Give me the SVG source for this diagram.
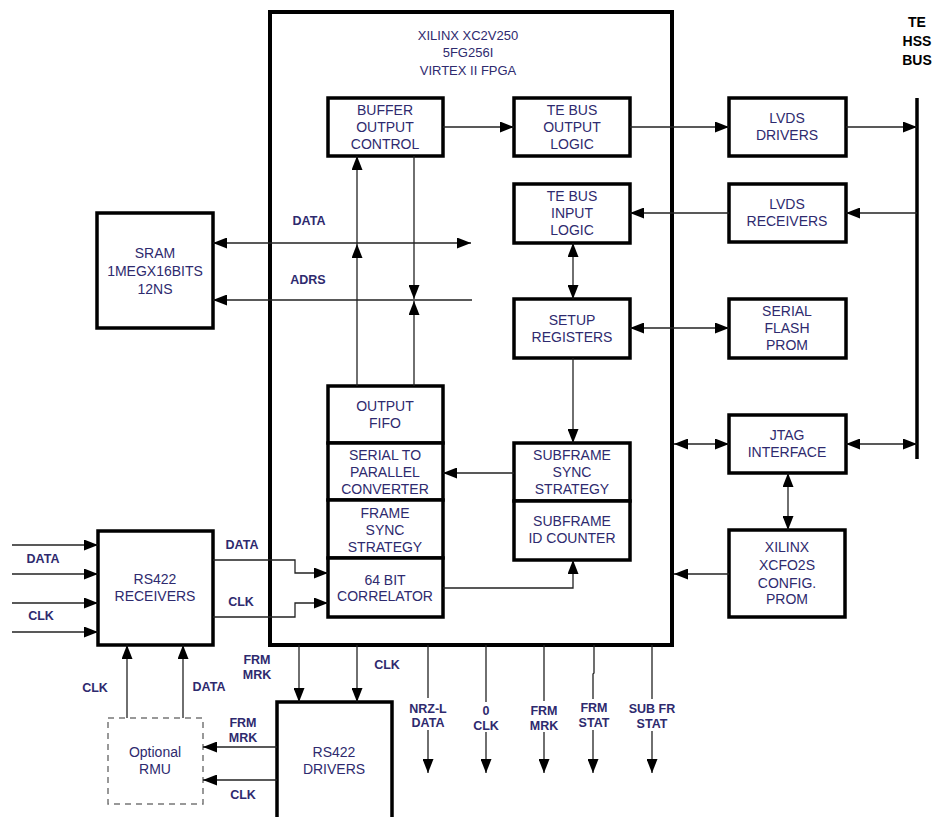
<svg xmlns="http://www.w3.org/2000/svg" width="937" height="817" viewBox="0 0 937 817">
<defs>
<marker id="ah" markerUnits="userSpaceOnUse" markerWidth="14" markerHeight="11" refX="14" refY="5.5" orient="auto-start-reverse" viewBox="0 0 14 11">
<path d="M0,0 L14,5.5 L0,11 z" fill="#000"/>
</marker>
<style>
.box{fill:#fff;stroke:#000;stroke-width:3.5}
.fpga{fill:#fff;stroke:#000;stroke-width:4}
.dash{fill:#fff;stroke:#777;stroke-width:1.5;stroke-dasharray:6,5}
.c{fill:none;stroke:#222;stroke-width:1.3}
.a{fill:none;stroke:#222;stroke-width:1.3;marker-end:url(#ah)}
.d{fill:none;stroke:#222;stroke-width:1.3;marker-start:url(#ah);marker-end:url(#ah)}
.bus{stroke:#000;stroke-width:3.5}
text{font-family:"Liberation Sans",Arial,sans-serif;fill:#2e2a6e;text-anchor:middle}
.t{font-size:14px}
.h{font-size:13px}
.l{font-size:12.5px;font-weight:bold}
.k{font-size:14px;font-weight:bold;fill:#000}
</style>
</defs>

<g id="fpga">
<rect class="fpga" x="270" y="12" width="402" height="633"/>
<text class="h" x="468" y="40">XILINX XC2V250</text>
<text class="h" x="468" y="57">5FG256I</text>
<text class="h" x="468" y="75">VIRTEX II FPGA</text>
</g>

<g id="buffer-output-control">
<rect class="box" x="328" y="98" width="115" height="58"/>
<text class="t" x="385" y="115">BUFFER</text>
<text class="t" x="385" y="132">OUTPUT</text>
<text class="t" x="385" y="149">CONTROL</text>
</g>
<g id="te-bus-output-logic">
<rect class="box" x="514" y="98" width="116" height="58"/>
<text class="t" x="572" y="115">TE BUS</text>
<text class="t" x="572" y="132">OUTPUT</text>
<text class="t" x="572" y="149">LOGIC</text>
</g>
<g id="te-bus-input-logic">
<rect class="box" x="514" y="184" width="116" height="59"/>
<text class="t" x="572" y="201">TE BUS</text>
<text class="t" x="572" y="218">INPUT</text>
<text class="t" x="572" y="235">LOGIC</text>
</g>
<g id="setup-registers">
<rect class="box" x="514" y="299" width="116" height="59"/>
<text class="t" x="572" y="325">SETUP</text>
<text class="t" x="572" y="342">REGISTERS</text>
</g>
<g id="output-fifo">
<rect class="box" x="328" y="386" width="115" height="57"/>
<text class="t" x="385" y="411">OUTPUT</text>
<text class="t" x="385" y="428">FIFO</text>
</g>
<g id="serial-to-parallel">
<rect class="box" x="328" y="443" width="115" height="57"/>
<text class="t" x="385" y="460">SERIAL TO</text>
<text class="t" x="385" y="477">PARALLEL</text>
<text class="t" x="385" y="494">CONVERTER</text>
</g>
<g id="frame-sync-strategy">
<rect class="box" x="328" y="500" width="115" height="58"/>
<text class="t" x="385" y="518">FRAME</text>
<text class="t" x="385" y="535">SYNC</text>
<text class="t" x="385" y="552">STRATEGY</text>
</g>
<g id="correlator">
<rect class="box" x="328" y="558" width="115" height="59"/>
<text class="t" x="385" y="585">64 BIT</text>
<text class="t" x="385" y="601">CORRELATOR</text>
</g>
<g id="subframe-sync-strategy">
<rect class="box" x="514" y="443" width="116" height="58"/>
<text class="t" x="572" y="460">SUBFRAME</text>
<text class="t" x="572" y="477">SYNC</text>
<text class="t" x="572" y="494">STRATEGY</text>
</g>
<g id="subframe-id-counter">
<rect class="box" x="514" y="501" width="116" height="59"/>
<text class="t" x="572" y="526">SUBFRAME</text>
<text class="t" x="572" y="543">ID COUNTER</text>
</g>

<g id="sram">
<rect class="box" x="97" y="213" width="116" height="115"/>
<text class="t" x="155" y="258">SRAM</text>
<text class="t" x="155" y="276">1MEGX16BITS</text>
<text class="t" x="155" y="294">12NS</text>
</g>
<g id="lvds-drivers">
<rect class="box" x="729" y="98" width="117" height="58"/>
<text class="t" x="787" y="123">LVDS</text>
<text class="t" x="787" y="140">DRIVERS</text>
</g>
<g id="lvds-receivers">
<rect class="box" x="729" y="184" width="117" height="58"/>
<text class="t" x="787" y="209">LVDS</text>
<text class="t" x="787" y="226">RECEIVERS</text>
</g>
<g id="serial-flash-prom">
<rect class="box" x="729" y="299" width="117" height="59"/>
<text class="t" x="787" y="316">SERIAL</text>
<text class="t" x="787" y="333">FLASH</text>
<text class="t" x="787" y="350">PROM</text>
</g>
<g id="jtag-interface">
<rect class="box" x="729" y="415" width="117" height="58"/>
<text class="t" x="787" y="440">JTAG</text>
<text class="t" x="787" y="457">INTERFACE</text>
</g>
<g id="config-prom">
<rect class="box" x="729" y="530" width="116" height="87"/>
<text class="t" x="787" y="552">XILINX</text>
<text class="t" x="787" y="570">XCFO2S</text>
<text class="t" x="787" y="588">CONFIG.</text>
<text class="t" x="787" y="604">PROM</text>
</g>
<g id="te-hss-bus">
<line class="bus" x1="917" y1="98" x2="917" y2="459"/>
<text class="k" x="917" y="27">TE</text>
<text class="k" x="917" y="46">HSS</text>
<text class="k" x="917" y="65">BUS</text>
</g>
<g id="rs422-receivers">
<rect class="box" x="98" y="531" width="115" height="114"/>
<text class="t" x="155" y="584">RS422</text>
<text class="t" x="155" y="601">RECEIVERS</text>
</g>
<g id="optional-rmu">
<rect class="dash" x="108" y="718" width="95" height="86"/>
<text class="t" x="155" y="757">Optional</text>
<text class="t" x="155" y="774">RMU</text>
</g>
<g id="rs422-drivers">
<rect class="box" x="277" y="702" width="115" height="118"/>
<text class="t" x="334" y="757">RS422</text>
<text class="t" x="334" y="774">DRIVERS</text>
</g>

<g id="connectors">
<path class="a" d="M443,127 H514"/>
<path class="a" d="M630,127 H729"/>
<path class="a" d="M846,127 H917"/>
<path class="a" d="M917,213 H846"/>
<path class="a" d="M729,213 H630"/>
<path class="d" d="M630,328 H729"/>
<path class="d" d="M674,444 H729"/>
<path class="d" d="M846,444 H917"/>
<path class="d" d="M788,473 V530"/>
<path class="a" d="M729,574 H674"/>
<path class="d" d="M573,243 V299"/>
<path class="a" d="M573,358 V443"/>
<path class="a" d="M514,473 H443"/>
<path class="a" d="M443,588 H573 V560"/>
<path class="d" d="M213,243 H471"/>
<path class="a" d="M472,300 H213"/>
<text class="l" x="309" y="225">DATA</text>
<text class="l" x="308" y="284">ADRS</text>
<path class="a" d="M357,386 V244"/>
<path class="a" d="M357,244 V156"/>
<path class="a" d="M414,156 V299"/>
<path class="a" d="M414,386 V301"/>
<path class="a" d="M12,545 H98"/>
<path class="a" d="M12,574 H98"/>
<path class="a" d="M12,603 H98"/>
<path class="a" d="M12,632 H98"/>
<text class="l" x="43" y="563">DATA</text>
<text class="l" x="41" y="620">CLK</text>
<path class="a" d="M213,560 H295 V573 H328"/>
<path class="a" d="M213,617 H295 V603 H328"/>
<text class="l" x="242" y="549">DATA</text>
<text class="l" x="241" y="606">CLK</text>
<path class="a" d="M127,718 V645"/>
<path class="a" d="M183,718 V645"/>
<text class="l" x="95" y="692">CLK</text>
<text class="l" x="209" y="691">DATA</text>
<path class="a" d="M299,645 V702"/>
<path class="a" d="M357,645 V702"/>
<text class="l" x="257" y="664">FRM</text>
<text class="l" x="257" y="679">MRK</text>
<text class="l" x="387" y="669">CLK</text>
<path class="a" d="M277,747 H203"/>
<path class="a" d="M277,780 H203"/>
<text class="l" x="243" y="727">FRM</text>
<text class="l" x="243" y="742">MRK</text>
<text class="l" x="243" y="799">CLK</text>
<path class="c" d="M428,645 V698"/>
<path class="a" d="M428,730 V773"/>
<text class="l" x="428" y="713">NRZ-L</text>
<text class="l" x="428" y="727">DATA</text>
<path class="c" d="M486,645 V702"/>
<path class="a" d="M486,732 V773"/>
<text class="l" x="486" y="715">0</text>
<text class="l" x="486" y="730">CLK</text>
<path class="c" d="M544,645 V701"/>
<path class="a" d="M544,732 V773"/>
<text class="l" x="544" y="715">FRM</text>
<text class="l" x="544" y="730">MRK</text>
<path class="c" d="M594,645 V673 L593,674 V699"/>
<path class="a" d="M593,730 V773"/>
<text class="l" x="594" y="712">FRM</text>
<text class="l" x="594" y="727">STAT</text>
<path class="c" d="M652,645 V699"/>
<path class="a" d="M652,731 V773"/>
<text class="l" x="652" y="713">SUB FR</text>
<text class="l" x="652" y="728">STAT</text>
</g>
</svg>
